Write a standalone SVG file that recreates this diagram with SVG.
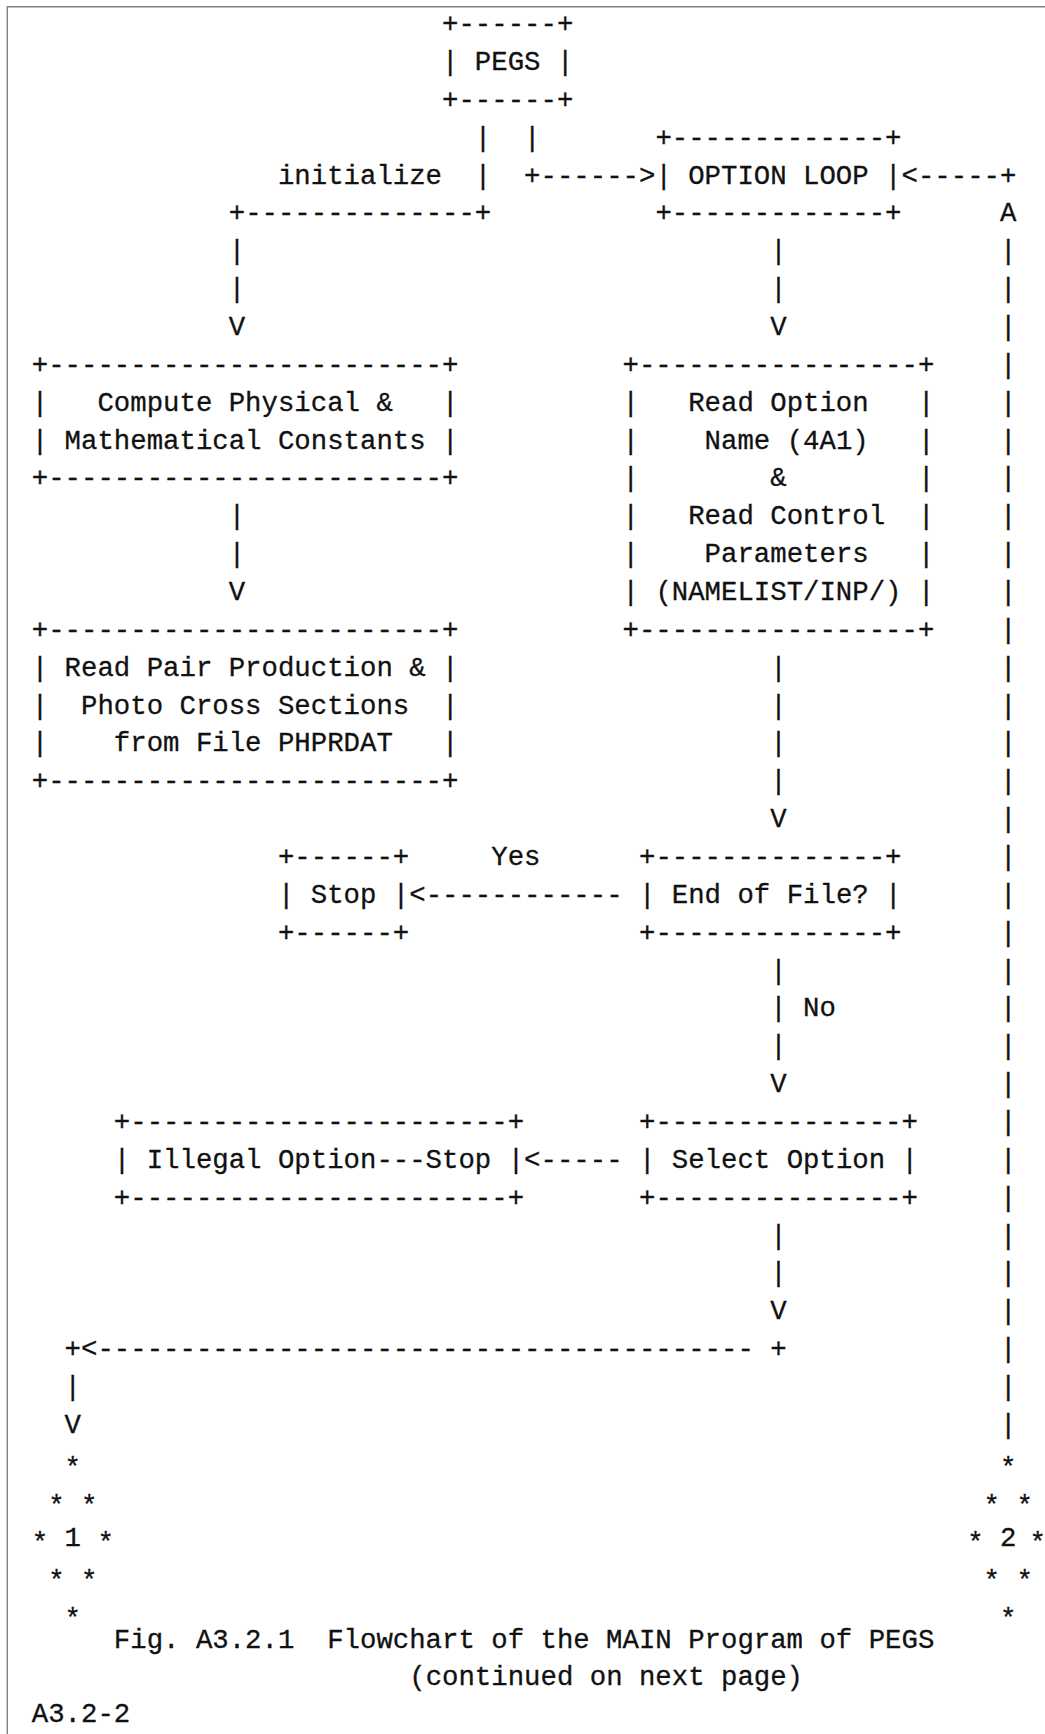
<svg xmlns="http://www.w3.org/2000/svg" width="1045" height="1734" viewBox="0 0 1045 1734" xml:space="preserve">
<style>
text { font-family: "Liberation Mono", "DejaVu Sans Mono", monospace; font-size: 27.35px; fill: #111; stroke: #111; stroke-width: 0.3; white-space: pre; }
.frame { stroke: #808080; stroke-width: 1.4; fill: none; }
</style>
<rect width="1045" height="1734" fill="#ffffff"/>
<path class="frame" d="M7.3,1734 V6.7 H1045"/>

<g id="node-pegs">
<text x="442.05" y="32.1">+------+</text>
<text x="442.05" y="69.96">| PEGS |</text>
<text x="442.05" y="107.81">+------+</text>
</g>

<g id="node-option-loop">
<text x="655.38" y="145.67">+-------------+</text>
<text x="655.38" y="183.53">| OPTION LOOP |</text>
<text x="655.38" y="221.39">+-------------+</text>
</g>

<g id="node-compute">
<text x="31.8" y="372.81">+------------------------+</text>
<text x="31.8" y="410.67">|</text><text x="97.44" y="410.67">Compute Physical &amp;</text><text x="442.05" y="410.67">|</text>
<text x="31.8" y="448.53">|</text><text x="64.62" y="448.53">Mathematical Constants</text><text x="442.05" y="448.53">|</text>
<text x="31.8" y="486.38">+------------------------+</text>
</g>

<g id="node-read-option">
<text x="622.56" y="372.81">+-----------------+</text>
<text x="622.56" y="410.67">|</text><text x="688.2" y="410.67">Read Option</text><text x="917.94" y="410.67">|</text>
<text x="622.56" y="448.53">|</text><text x="704.61" y="448.53">Name (4A1)</text><text x="917.94" y="448.53">|</text>
<text x="622.56" y="486.38">|</text><text x="770.25" y="486.38">&amp;</text><text x="917.94" y="486.38">|</text>
<text x="622.56" y="524.24">|</text><text x="688.2" y="524.24">Read Control</text><text x="917.94" y="524.24">|</text>
<text x="622.56" y="562.1">|</text><text x="704.61" y="562.1">Parameters</text><text x="917.94" y="562.1">|</text>
<text x="622.56" y="599.96">|</text><text x="655.38" y="599.96">(NAMELIST/INP/)</text><text x="917.94" y="599.96">|</text>
<text x="622.56" y="637.81">+-----------------+</text>
</g>

<g id="node-read-pair">
<text x="31.8" y="637.81">+------------------------+</text>
<text x="31.8" y="675.67">|</text><text x="64.62" y="675.67">Read Pair Production &amp;</text><text x="442.05" y="675.67">|</text>
<text x="31.8" y="713.53">|</text><text x="81.03" y="713.53">Photo Cross Sections</text><text x="442.05" y="713.53">|</text>
<text x="31.8" y="751.38">|</text><text x="113.85" y="751.38">from File PHPRDAT</text><text x="442.05" y="751.38">|</text>
<text x="31.8" y="789.24">+------------------------+</text>
</g>

<g id="node-stop">
<text x="277.95" y="864.95">+------+</text>
<text x="277.95" y="902.81">| Stop |</text>
<text x="277.95" y="940.67">+------+</text>
</g>

<g id="node-end-of-file">
<text x="638.97" y="864.95">+--------------+</text>
<text x="638.97" y="902.81">| End of File? |</text>
<text x="638.97" y="940.67">+--------------+</text>
</g>

<g id="node-illegal-option">
<text x="113.85" y="1129.95">+-----------------------+</text>
<text x="113.85" y="1167.81">| Illegal Option---Stop |</text>
<text x="113.85" y="1205.67">+-----------------------+</text>
</g>

<g id="node-select-option">
<text x="638.97" y="1129.95">+---------------+</text>
<text x="638.97" y="1167.81">| Select Option |</text>
<text x="638.97" y="1205.67">+---------------+</text>
</g>

<g id="node-connector-1">
<text x="64.62" y="1475.67">*</text>
<text x="48.21" y="1513.52">*</text><text x="81.03" y="1513.52">*</text>
<text x="31.8" y="1551.38">*</text><text x="64.62" y="1546.38">1</text><text x="97.44" y="1551.38">*</text>
<text x="48.21" y="1589.24">*</text><text x="81.03" y="1589.24">*</text>
<text x="64.62" y="1627.1">*</text>
</g>

<g id="node-connector-2">
<text x="999.99" y="1475.67">*</text>
<text x="983.58" y="1513.52">*</text><text x="1016.4" y="1513.52">*</text>
<text x="967.17" y="1551.38">*</text><text x="999.99" y="1546.38">2</text><text x="1029.5" y="1551.38">*</text>
<text x="983.58" y="1589.24">*</text><text x="1016.4" y="1589.24">*</text>
<text x="999.99" y="1627.1">*</text>
</g>

<g id="connectors">
<text x="474.87" y="145.67">|</text>
<text x="474.87" y="183.53">|</text>
<text x="277.95" y="183.53">initialize</text>
<text x="228.72" y="221.39">+--------------+</text>
<text x="228.72" y="259.24">|</text>
<text x="228.72" y="297.1">|</text>
<text x="228.72" y="334.96">V</text>
<text x="524.1" y="145.67">|</text>
<text x="524.1" y="183.53">+------&gt;</text>
<text x="901.53" y="183.53">&lt;-----+</text>
<text x="999.99" y="221.39">A</text>
<text x="999.99" y="259.24">|</text>
<text x="999.99" y="297.1">|</text>
<text x="999.99" y="334.96">|</text>
<text x="999.99" y="372.81">|</text>
<text x="999.99" y="410.67">|</text>
<text x="999.99" y="448.53">|</text>
<text x="999.99" y="486.38">|</text>
<text x="999.99" y="524.24">|</text>
<text x="999.99" y="562.1">|</text>
<text x="999.99" y="599.96">|</text>
<text x="999.99" y="637.81">|</text>
<text x="999.99" y="675.67">|</text>
<text x="999.99" y="713.53">|</text>
<text x="999.99" y="751.38">|</text>
<text x="999.99" y="789.24">|</text>
<text x="999.99" y="827.1">|</text>
<text x="999.99" y="864.95">|</text>
<text x="999.99" y="902.81">|</text>
<text x="999.99" y="940.67">|</text>
<text x="999.99" y="978.52">|</text>
<text x="999.99" y="1016.38">|</text>
<text x="999.99" y="1054.24">|</text>
<text x="999.99" y="1092.1">|</text>
<text x="999.99" y="1129.95">|</text>
<text x="999.99" y="1167.81">|</text>
<text x="999.99" y="1205.67">|</text>
<text x="999.99" y="1243.52">|</text>
<text x="999.99" y="1281.38">|</text>
<text x="999.99" y="1319.24">|</text>
<text x="999.99" y="1357.1">|</text>
<text x="999.99" y="1394.95">|</text>
<text x="999.99" y="1432.81">|</text>
<text x="770.25" y="259.24">|</text>
<text x="770.25" y="297.1">|</text>
<text x="770.25" y="334.96">V</text>
<text x="228.72" y="524.24">|</text>
<text x="228.72" y="562.1">|</text>
<text x="228.72" y="599.96">V</text>
<text x="770.25" y="675.67">|</text>
<text x="770.25" y="713.53">|</text>
<text x="770.25" y="751.38">|</text>
<text x="770.25" y="789.24">|</text>
<text x="770.25" y="827.1">V</text>
<text x="491.28" y="864.95">Yes</text>
<text x="409.23" y="902.81">&lt;------------</text>
<text x="770.25" y="978.52">|</text>
<text x="770.25" y="1016.38">|</text>
<text x="803.07" y="1016.38">No</text>
<text x="770.25" y="1054.24">|</text>
<text x="770.25" y="1092.1">V</text>
<text x="524.1" y="1167.81">&lt;-----</text>
<text x="770.25" y="1243.52">|</text>
<text x="770.25" y="1281.38">|</text>
<text x="770.25" y="1319.24">V</text>
<text x="64.62" y="1357.1">+&lt;----------------------------------------</text>
<text x="770.25" y="1357.1">+</text>
<text x="64.62" y="1394.95">|</text>
<text x="64.62" y="1432.81">V</text>
</g>

<g id="caption">
<text x="113.85" y="1648">Fig. A3.2.1  Flowchart of the MAIN Program of PEGS</text>
<text x="409.23" y="1685">(continued on next page)</text>
<text x="31.8" y="1722">A3.2-2</text>
</g>
</svg>
